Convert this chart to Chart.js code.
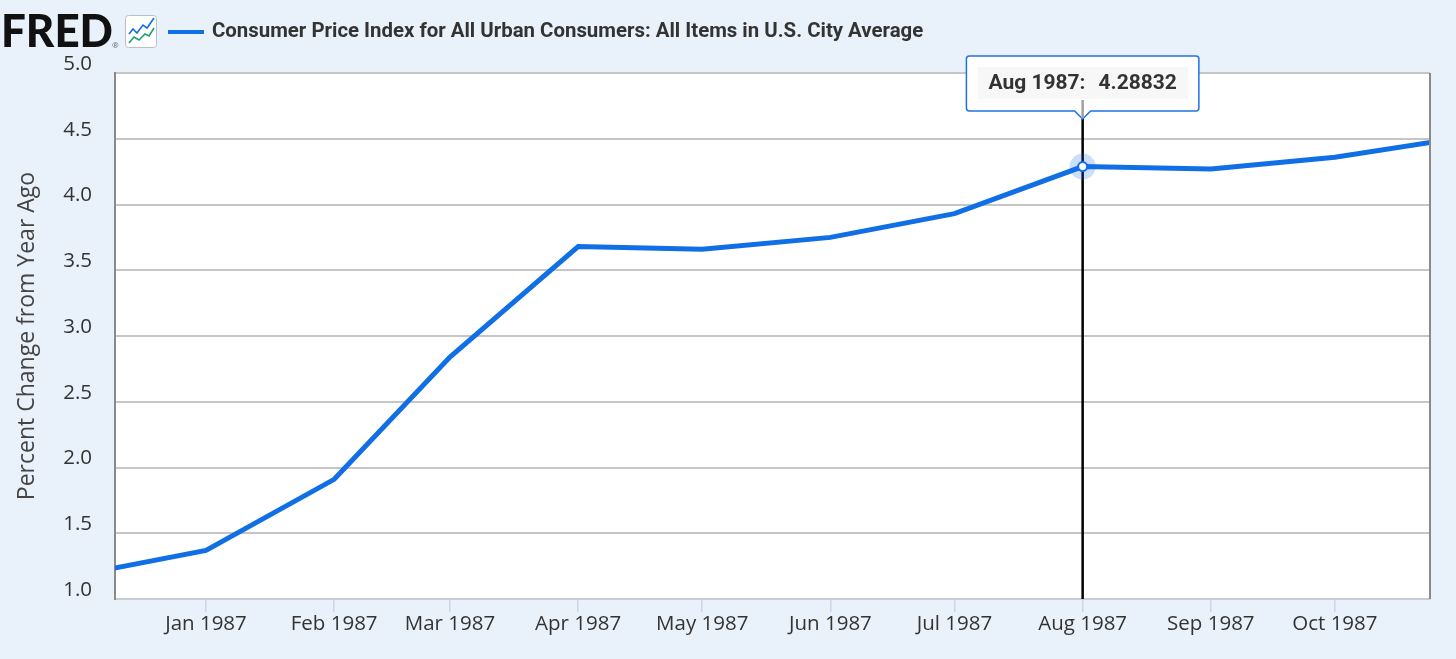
<!DOCTYPE html>
<html>
<head>
<meta charset="utf-8">
<script src="https://cdn.jsdelivr.net/npm/chart.js@4.4.0/dist/chart.umd.min.js"></script>
<style>
html, body { margin: 0; padding: 0; background: #e9f1fb; }
#wrap { width: 1456px; height: 659px; }
</style>
</head>
<body>
<div id="wrap"><canvas id="Chart" width="1456" height="659"></canvas></div>
<script>
var seriesLabel = 'Consumer Price Index for All Urban Consumers: All Items in U.S. City Average';
var axisTitle = 'Percent Change from Year Ago';

// monthly observations (percent change from year ago)
var obsDates = ['1986-12-01', '1987-01-01', '1987-02-01', '1987-03-01', '1987-04-01', '1987-05-01',
                '1987-06-01', '1987-07-01', '1987-08-01', '1987-09-01', '1987-10-01', '1987-11-01'];
var obsValues = [1.18, 1.37, 1.91, 2.84, 3.68, 3.66, 3.75, 3.93, 4.28832, 4.27, 4.36, 4.51];

var tickDates = ['1987-01-01', '1987-02-01', '1987-03-01', '1987-04-01', '1987-05-01',
                 '1987-06-01', '1987-07-01', '1987-08-01', '1987-09-01', '1987-10-01'];
var tickLabels = ['Jan 1987', 'Feb 1987', 'Mar 1987', 'Apr 1987', 'May 1987',
                  'Jun 1987', 'Jul 1987', 'Aug 1987', 'Sep 1987', 'Oct 1987'];

var viewStart = '1986-12-10';
var viewEnd = '1987-10-24';
var hoverIndex = 8;
var hoverLabel = 'Aug 1987';

var lineColor = '#116fe6';

function dayNum(s) {
    return (Date.parse(s) - Date.parse('1987-01-01')) / 86400000;
}

var points = [];
for (var i = 0; i < obsDates.length; i++) {
    points.push({x: dayNum(obsDates[i]), y: obsValues[i]});
}

var fredDecor = {
    id: 'fredDecor',
    beforeDraw: function(chart) {
        var ctx = chart.ctx, a = chart.chartArea;
        ctx.save();
        ctx.fillStyle = '#e9f1fb';
        ctx.fillRect(0, 0, chart.width, chart.height);
        ctx.fillStyle = '#ffffff';
        ctx.fillRect(a.left, a.top, a.right - a.left, a.bottom - a.top);
        ctx.restore();
    },
    afterDraw: function(chart) {
        var ctx = chart.ctx, a = chart.chartArea;
        var xs = chart.scales.x, ys = chart.scales.y;
        ctx.save();

        // right frame
        ctx.strokeStyle = '#8a8a8a';
        ctx.lineWidth = 2;
        ctx.beginPath();
        ctx.moveTo(a.right, a.top);
        ctx.lineTo(a.right, a.bottom);
        ctx.stroke();

        // header: logo
        ctx.fillStyle = '#111';
        ctx.font = '900 47px Lato';
        ctx.textBaseline = 'alphabetic';
        var w = ctx.measureText('FRED').width;
        ctx.save();
        ctx.translate(1, 47);
        ctx.scale(112 / w, 0.97);
        ctx.fillText('FRED', 0, 0);
        ctx.restore();
        ctx.font = '8px "Open Sans"';
        ctx.fillStyle = '#666';
        ctx.fillText('\u00AE', 112, 48);

        ctx.fillStyle = '#fff';
        ctx.strokeStyle = '#b9c0c8';
        ctx.lineWidth = 1;
        ctx.beginPath();
        ctx.roundRect(125.5, 15.5, 31, 32, 3);
        ctx.fill();
        ctx.stroke();
        ctx.lineWidth = 1.6;
        ctx.strokeStyle = '#1a6fe0';
        ctx.beginPath();
        ctx.moveTo(129, 34); ctx.lineTo(133, 29); ctx.lineTo(137, 33); ctx.lineTo(143, 25);
        ctx.lineTo(147, 28); ctx.lineTo(154, 18);
        ctx.stroke();
        ctx.strokeStyle = '#1f9e78';
        ctx.beginPath();
        ctx.moveTo(129, 43); ctx.lineTo(134, 37); ctx.lineTo(139, 40); ctx.lineTo(145, 34);
        ctx.lineTo(149, 36); ctx.lineTo(154, 28);
        ctx.stroke();

        // header: legend
        ctx.strokeStyle = lineColor;
        ctx.lineWidth = 4;
        ctx.beginPath();
        ctx.moveTo(168, 32);
        ctx.lineTo(204, 32);
        ctx.stroke();
        ctx.fillStyle = '#333';
        ctx.font = 'bold 20.4px Roboto';
        ctx.textBaseline = 'middle';
        ctx.fillText(chart.data.datasets[0].label, 212, 32);

        // hover crosshair + point
        var px = xs.getPixelForValue(points[hoverIndex].x);
        var py = ys.getPixelForValue(points[hoverIndex].y);
        var tipY = 119;
        ctx.strokeStyle = '#000';
        ctx.lineWidth = 2.5;
        ctx.beginPath();
        ctx.moveTo(px, tipY);
        ctx.lineTo(px, a.bottom);
        ctx.stroke();

        ctx.fillStyle = 'rgba(17,111,230,0.22)';
        ctx.beginPath();
        ctx.arc(px, py, 13, 0, Math.PI * 2);
        ctx.fill();
        ctx.fillStyle = '#fff';
        ctx.strokeStyle = lineColor;
        ctx.lineWidth = 2;
        ctx.beginPath();
        ctx.arc(px, py, 4.5, 0, Math.PI * 2);
        ctx.fill();
        ctx.stroke();

        // tooltip
        ctx.font = 'bold 21px Roboto';
        var t1 = hoverLabel + ':';
        var t2 = String(obsValues[hoverIndex]);
        var w1 = ctx.measureText(t1).width, w2 = ctx.measureText(t2).width;
        var gap = 13, pad = 22;
        var bw = w1 + gap + w2 + pad * 2;
        var bx = px - bw / 2, by = 56, bh = 55;
        ctx.fillStyle = '#fff';
        ctx.strokeStyle = '#1f72e6';
        ctx.lineWidth = 1.5;
        ctx.beginPath();
        ctx.moveTo(bx + 3, by);
        ctx.lineTo(bx + bw - 3, by);
        ctx.arcTo(bx + bw, by, bx + bw, by + 3, 3);
        ctx.lineTo(bx + bw, by + bh - 3);
        ctx.arcTo(bx + bw, by + bh, bx + bw - 3, by + bh, 3);
        ctx.lineTo(px + 8, by + bh);
        ctx.lineTo(px, tipY);
        ctx.lineTo(px - 8, by + bh);
        ctx.lineTo(bx + 3, by + bh);
        ctx.arcTo(bx, by + bh, bx, by + bh - 3, 3);
        ctx.lineTo(bx, by + 3);
        ctx.arcTo(bx, by, bx + 3, by, 3);
        ctx.closePath();
        ctx.fill();
        ctx.stroke();
        ctx.fillStyle = '#f7f7f7';
        ctx.fillRect(bx + 11, by + 11, bw - 22, 32);
        ctx.strokeStyle = '#a0a0a0';
        ctx.lineWidth = 2.5;
        ctx.beginPath();
        ctx.moveTo(px, by + 44);
        ctx.lineTo(px, tipY - 1);
        ctx.stroke();
        ctx.fillStyle = '#333';
        ctx.textBaseline = 'middle';
        ctx.fillText(t1, bx + pad, by + 28);
        ctx.fillText(t2, bx + pad + w1 + gap, by + 28);

        ctx.restore();
    }
};

var ctx = document.getElementById('Chart').getContext('2d');
var myChart = new Chart(ctx, {
    type: 'line',
    data: {
        datasets: [{
            label: seriesLabel,
            data: points,
            borderColor: lineColor,
            borderWidth: 5,
            pointRadius: 0,
            tension: 0,
            fill: false
        }]
    },
    options: {
        responsive: false,
        animation: false,
        events: [],
        layout: { padding: { top: 73, right: 26, left: 0, bottom: 0 } },
        plugins: {
            legend: { display: false },
            tooltip: { enabled: false }
        },
        scales: {
            x: {
                type: 'linear',
                min: dayNum(viewStart),
                max: dayNum(viewEnd),
                afterBuildTicks: function(axis) {
                    axis.ticks = tickDates.map(function(d) { return {value: dayNum(d)}; });
                },
                afterFit: function(scale) { scale.height = 60; },
                ticks: {
                    autoSkip: false,
                    maxRotation: 0,
                    padding: 0,
                    color: '#333',
                    font: { family: 'Open Sans', size: 20.5 },
                    callback: function(v, i) { return tickLabels[i]; }
                },
                grid: {
                    drawOnChartArea: false,
                    drawTicks: true,
                    tickLength: 13,
                    color: '#ccd6eb',
                    lineWidth: 1.5
                },
                border: { display: true, color: '#c8ccd4', width: 2 }
            },
            y: {
                min: 1,
                max: 5,
                afterFit: function(scale) { scale.width = 115; },
                ticks: {
                    stepSize: 0.5,
                    padding: 23,
                    labelOffset: -9,
                    color: '#333',
                    font: { family: 'Open Sans', size: 20.5 },
                    callback: function(v) { return v.toFixed(1); }
                },
                grid: { color: '#c6c6c6', lineWidth: 2, drawTicks: false },
                border: { display: true, color: '#8a8a8a', width: 2 },
                title: {
                    display: true,
                    text: axisTitle,
                    color: '#444',
                    font: { family: 'Open Sans', size: 23 },
                    padding: { top: 14, bottom: 0 }
                }
            }
        }
    },
    plugins: [fredDecor]
});
</script>
</body>
</html>
